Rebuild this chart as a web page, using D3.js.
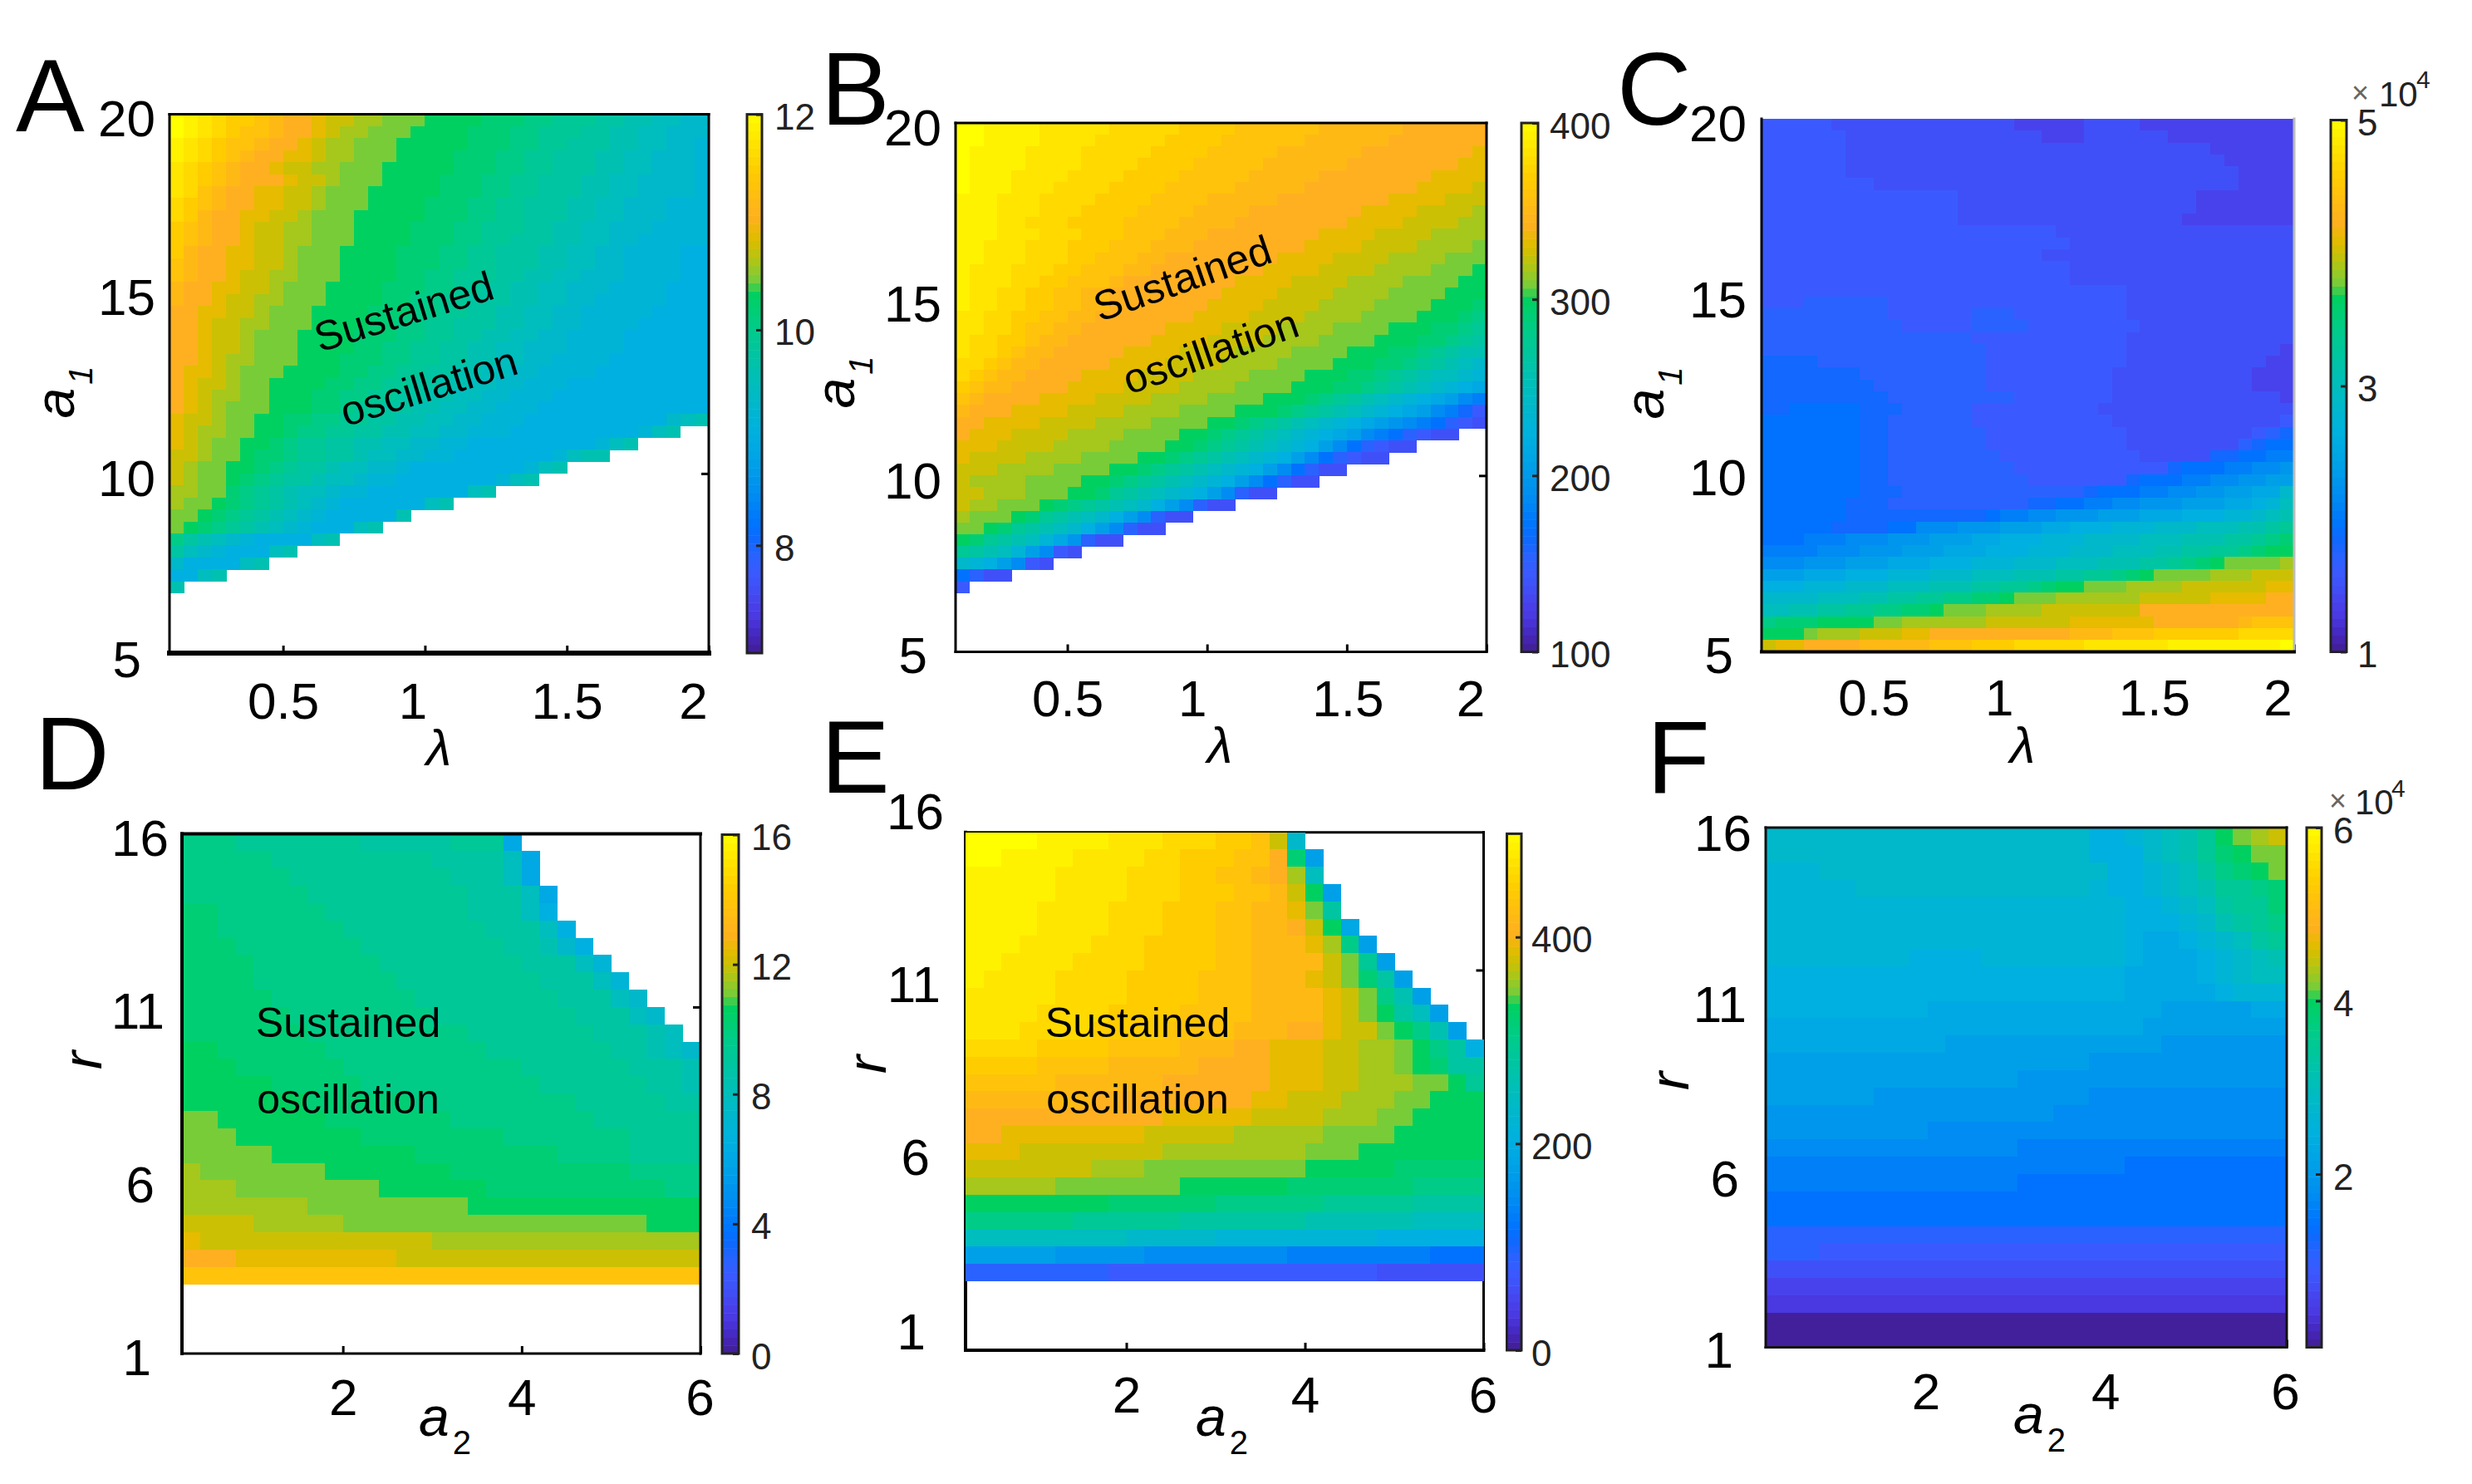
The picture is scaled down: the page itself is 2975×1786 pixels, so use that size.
<!DOCTYPE html>
<html>
<head>
<meta charset="utf-8">
<script src="https://cdn.jsdelivr.net/npm/d3@7"></script>
<style>
body { margin: 0; background: #fff; }
text { font-family: "Liberation Sans", Arial, sans-serif; fill: #000; }
</style>
</head>
<body>
<div id="fig"></div>
<script>
// every grid row is one string, one char per cell, char = colour level 0..z read off the picture
// rows run from the top of the panel down, a row that stops early is white to the right
var levelChars = "0123456789abcdefghijklmnopqrstuvwxyz";
var cmapStops = [0, 1, 2, 3, 4, 5, 6, 7, 8, 10, 12, 14, 16, 17.5, 21, 23, 24, 25, 26, 27, 28, 31, 35];
var cmapColors = ["#42209c", "#4528c0", "#4a38e0", "#4842ec", "#4050f8", "#3a5aff", "#2a62ff", "#1268ff", "#0072ff",
    "#008cf2", "#00a0e8", "#00b0e0", "#00b8ca", "#00bfb8", "#00cc88", "#00d060", "#78cc38", "#a6c71c", "#ccc004",
    "#e6bb00", "#ffb020", "#ffcc00", "#ffff00"];

var lambdaTicks = [0.5, 1, 1.5, 2];
var a1Ticks = [5, 10, 15, 20];
var a2Ticks = [2, 4, 6];
var rTicks = [1, 6, 11, 16];

var gridA = [
"zyxwvvutssrqqppooonnnnmmmllkkkjjiihhgg",
"zyxwvuutssrqppooonnnnmmmllkkkjjiihhggg",
"yxwvuutssrqppooonnnnnmmmllkkjjjiihhggf",
"yxwvutssrrqppooonnnnmmmllkkjjjiihhgggf",
"xwvutssrqqppooonnnnnmmmllkkjjjiihhgggf",
"xwvutsssrqqpooonnnnmmmllkkjjjiihhggggf",
"xwutssrrqqpooonnnnnmmmllkkjjjiihhggggf",
"wvutssrrqqpooonnnnmmmllkkjjjiihhgggfff",
"wvtssrrqqpooonnnnnmmmllkkjjjiihhgggfff",
"vutssrqqppooonnnnmmmllkkkjjiihhgggffff",
"vutssrqqppooonnnnmmmllkkjjjiihhggfffff",
"vtssrrqqpooonnnnmmmllkkjjjiihhggffffee",
"utssrrqqpooonnnnmmmllkkjjjiihhggffffee",
"utssrqqppooonnnnmmllkkkjjiihhgggffffee",
"tssrrqqpooonnnnmmmllkkjjiihhgggffffeee",
"tssrqqppooonnnnmmllkkjjjiihhggfffffeee",
"ssrrqqpooonnnnmmmllkkjjiihhggfffffeeee",
"ssrqqppooonnnnmmllkkjjjiihhggffffeeeee",
"ssrqqpooonnnnmmmllkkjjiihhggffffeeeeee",
"ssrqqpooonnnnmmllkkjjiihhgggffffeeeeee",
"ssrqppooonnnmmmllkkjjiihhggffffeeeeeee",
"srrqpooonnnnmmllkkjjiihhggffffeeeeeeee",
"srqqpoonnnnmmllkkjjiihhggfffeeeeeeeeee",
"srqppoonnnmmllkkjjiihhggfffeeeeeeeeeee",
"srqpooonnnmmlkkjjiihhggfffeeeeeeeeeeee",
"rqqpoonnmmllkkjjiihhggfffeeeeeeeeeeghi",
"rqppoonnmllkkjjiihhggfffeeeeeeeeefhi",
"rqpoonnmlkkjjiihhggffeeeeeeeeefhi",
"qqpoonmmlkkjjihhggffeeeeeeefhii",
"qpoonnmlkjjihhggfeeeeeeeefhi",
"qpoonmlkjjihhgffeeeeeeefhi",
"ppoomlkjihhgffeeeeeeehi",
"poonmlkjihgfeeeeeehi",
"oonmlkjihgfeeeeei",
"onmlkjihgfeeehi",
"ljihgfeeeehi",
"jhgfeeehi",
"geeeehi",
"eehi",
"i",
"", "", "", "", ""
];
var countsA = [38, 38, 38, 38, 38, 38, 38, 38, 38, 38, 38, 38, 38, 38, 38, 38, 38, 38, 38, 38, 38, 38, 38, 38, 38, 38,
    36, 33, 31, 28, 26, 23, 20, 17, 15, 12, 9, 7, 4, 1, 0, 0, 0, 0, 0];

var gridB = [
"zzyyyyxxxxxwwwwwvvvvuuuuuuttttttssssss",
"zzyyyyxxxxwwwwwvvvvuuuuuuttttttsssssss",
"zyyyyxxxxwwwwwvvvvuuuuuttttttssssssssr",
"zyyyyxxxxwwwwvvvvuuuuuttttttssssssssrr",
"zyyyxxxxwwwwvvvvuuuuutttttssssssssrrrr",
"zyyyxxxwwwwvvvvuuuuutttttssssssssrrrrq",
"yyyxxxwwwwvvvvuuuutttttssssssssrrrrqqq",
"yyyxxxwwwvvvvuuuuttttssssssssrrrrqqqqp",
"yyyxxwwwvvvvuuuuttttssssssssrrrrqqqqpp",
"yyyxxxwwwvvvuuutttssssssssrrrrqqqqpppp",
"yyxxxwwwvvvuuutttssssssssrrrrqqqqppppo",
"yyxxxwwwvvuuuttssssssssrrrrqqqqppppooo",
"yxxxwwwvvuuuttssssssssrrrrqqqqppppooon",
"yxxxwwvvuuutssssssssrrrrqqqqppppoooonn",
"yxxwwvvuuttssssssssrrrrqqqqppppoooonnn",
"yxxwwvvuuttsssssssrrrrqqqqppppoooonnnm",
"xxwwvvuuttsssssssrrrrqqqqppppoooonnnml",
"xxwwvuuttssssssrrrrqqqqppppoooonnnmmlk",
"xwwvvuttssssssrrrrqqqqppppoooonnnmmlkj",
"xwwvuttsssssrrrrqqqqppppoooonnnmmlkjii",
"wwvuttsssssrrrrqqqqppppoooonnnmmlkjihg",
"wvuttssssrrrrqqqqppppoooonnnmmlkjihhgf",
"vuttssssrrrrqqqqppppoooonnnmmlkjihgfed",
"utssssrrrrqqqqppppoooonnnmlkjihgfedca9",
"tsssrrrrqqqqppppoooonnnmlkjihgfedca975",
"ssrrrrqqqqppppoooonnmlkjihgfedcba98654",
"srrrqqqqppppoooonnmlkjihgfedca986544",
"rrrqqqqppppoooonnmlkjihgfeca86544",
"rqqqqppppoooonnmlkjihgfeca86544",
"qqqppppoooonnmlkjihgfeca8644",
"qppppoooonnmlkjihgfeca8644",
"qqpppooonnmkjihgfeca644",
"qppooonmlkjihgeca644",
"pooonmkjihgeca644",
"oonmkjihgeca644",
"nmkjihfdb644",
"kjihfca54",
"gfeca54",
"8644",
"5",
"", "", "", "", ""
];
var countsB = [38, 38, 38, 38, 38, 38, 38, 38, 38, 38, 38, 38, 38, 38, 38, 38, 38, 38, 38, 38, 38, 38, 38, 38, 38, 38,
    36, 33, 31, 28, 26, 23, 20, 17, 15, 12, 9, 7, 4, 1, 0, 0, 0, 0, 0];

var gridC = [
"55555444444444444433333444433333333333",
"55555544444444444444333444444333333333",
"55555544444444444444444444444444333333",
"55555544444444444444444444444444433333",
"55555544444444444444444444444444443333",
"55555555444444444444444444444444443333",
"55555555555555444444444444444443333333",
"55555555555555444444444444444443333333",
"55555555555555444444444444444433333333",
"55555555555555555555544444444444444444",
"55555555555555555555554444444444444444",
"55555555555555555555444444444444444444",
"55555555555555555555554444444444444444",
"55555555555555555555554444444444444444",
"55555555555555555555555555444444444444",
"55566666655555555555555555444444444444",
"66666666655555566655555555444444444444",
"66666666665555566665555555544444444444",
"66666666666666655555555555444444444444",
"66666666666666665555555555444444444443",
"77776666666666665555555555444444444433",
"77777776666666665555555554444444444333",
"77777777666666665555555554444444444333",
"77777777766666666655555554444444444443",
"77888887776666655555555544444444444444",
"88888887766666655555555554444444444445",
"88888887766666665555555555444444444567",
"88888887766666665555555555444444446788",
"88888887766666666555555555544444778899",
"88888887766666666655555555555788899aab",
"88888887766666666665555555788899aabbcc",
"88888887776666666666666788899aabbccddg",
"8888887776666666666778899aabbbcccddefh",
"8888887777777777899aabbbcccdddeeeffghi",
"88888777788aaabbbcccddeeefffggghhhiijk",
"888999aaabbbcccddeeefffgggghhhiiijjklm",
"9999aaabbbcccdddeeefffggghhhiijjkklmnn",
"aaabbbcccdddeeefffggghhhiiijjklmnoooop",
"cccdddeeefffggghhhiiijjkklmnoooopppqqq",
"eeefffggghhhiiijjkklmnnoooppppqqqqqqrr",
"gggghhhiijjkkllmmnoooppppppqqqqqrrrrss",
"hhiijjkkllmmnoooppppqqqqqqqsssssssssss",
"lmmmnnnnooppppppqqqqqqrrrrrrsssssstuuu",
"nnnopppqqqrrsssssssssstttuuuvvvvvvwwww",
"qrrsssstttttuuuvvvwwwwwxxxxxxyyyyyyyyz"
];
var countsC = d3.range(45).map(function() { return 38; });

var gridD = [
"lllkkkkkkkjjjjjkkkd",
"lllllkkkkkkkkkjjjjhd",
"llllllkkkkkkkkkjjjhd",
"lllllllkkkkkkkkkjjjhd",
"mmllllllkkkkkkkkjjjhe",
"mmlllllllkkkkkkkkjjjhe",
"mmmlllllllkkkkkkkkjjige",
"mmmmlllllllkkkkkkkkjjjhf",
"mmmmllllllllkkkkkkkkjjjhf",
"mmmmmllllllllkkkkkkkkjjjhg",
"mmmmmmllllllllkkkkkkkkjjjhg",
"mmmmmmmlllllllllkkkkkkkjjjih",
"nnmmmmmmlllllllllkkkkkkkjjihg",
"nnnmmmmmmllllllllllkkkkkkjjji",
"nnnnnmmmmmllllllllllkkkkkkjji",
"nnnnnnnmmmmmmlllllllllkkkkkjj",
"oonnnnnnmmmmmmmllllllllkkkkkk",
"ooonnnnnnnmmmmmmmmlllllllkkkkk",
"ooooonnnnnnnnmmmmmmmmllllkkkk",
"pooooooonnnnnnnmmmmmmmmmmlllll",
"pppoooooooonnnnnnmmmmmmmmmmll",
"pppppppooooooooonnnnnnnnnnnnn",
"qqqqpppppooooooooooooooooonn",
"rqqqqqqqqqqqqqpppppppppppppp",
"sssrrrrrrrrrqqqqqqqqqqqqqqqqq",
"uuuuuuuuuuuuuuuuuuuuuuuuuuuuu",
"", "", "", ""
];
var countsD = [19, 20, 20, 21, 21, 22, 23, 24, 25, 26, 27, 28, 29, 29, 29, 29, 29, 29, 29, 29, 29, 29, 29, 29, 29, 29, 0, 0, 0, 0];

var gridE = [
"zzzzyyyyxxxwwwvvuqg",
"zzyyyyxxxxwwvvvuusmc",
"yyyyyxxxxwwwvvuutsph",
"yyyyyxxxxwwwvvvuutqnc",
"yyyyxxxxwwwvvvuuttroj",
"yyyyxxxxwwwvvvuuttsqnd",
"yyyxxxxwwwvvvvuutttrplc",
"yyxxxxwwwwvvvvuuttttqokc",
"yxxxxwwwwvvvvuuutttrqomjc",
"xxxxxwwwwvvvvuuuttttrqolic",
"xxxxwwwwvvvvuuuuttttrqonjhc",
"xxxwwwwvvvvuuuutttssrqqonlic",
"wwwwvvvvuuuutttssrrrqqpponlje",
"vvvvuuuutttttssssrrrqqpponmjj",
"uuuuuttttttssssssrrrqqpppoonk",
"tttttttsssssssssrrqqqpppoonnn",
"sssssssssssrrrrrqqqqpppoonnnn",
"ssrrrrrrrrqqqqqpppppoooonnnnn",
"rrrqqqqqqqqppppppppooonnnnnnn",
"qqqqqqqpppooooooooonnnnnmmmmm",
"pppppooooooonnnnnnmmmmmmmllll",
"nnnnnnnnmmmmmmllllllkkkkkjjjj",
"llllllkkkkkkjjjjjjjiiiiiihhhh",
"hhhhhhhhhgggggfffffffffeeeeee",
"cccccbbbbbaaaaaaaa99999999888",
"66666666555555555555555444444",
"", "", "", ""
];
var countsE = [19, 20, 20, 21, 21, 22, 23, 24, 25, 26, 27, 28, 29, 29, 29, 29, 29, 29, 29, 29, 29, 29, 29, 29, 29, 29, 0, 0, 0, 0];

var gridF = [
"ggggggggggggggggggeefghiknopq",
"ggggggggggggggggggeeeghikmnoo",
"fffggggggggggggggggeefghjlmno",
"fffffgggggggggggggfeefghikklm",
"ffffffffffffffffffffeefghjkkm",
"ffffffffffffffffffffeeefgijkl",
"ffffffffffffffffffffeddefghjk",
"ffffffffeeeeffffffffedddefghi",
"eeeeeeeeeeeeeeeeeeeeddddefghh",
"eeeeeeeeeeeeeeeeeeeedddddefff",
"eeeeeeeeedddddddddddddcccccdd",
"dddddddddddddddddddddcccccccc",
"ddddddddddccccccccccccbbbbbbb",
"ccccccccccccccccccbbbbbbbbbbb",
"ccccccccccccccbbbbbbbbbbbbbbb",
"ccccccbbbbbbbbbbbbaaaaaaaaaaa",
"bbbbbbbbbbbbbbbbaaaaaaaaaaaaa",
"bbbbbbbbbaaaaaaaaaaaaaaaaaaaa",
"aaaaaaaaaaaaaa999999999999999",
"99999999999999999999888888888",
"99999999999999888888888888888",
"88888888888888888888888888888",
"88888888888888888888888888888",
"66666666666666666666666666666",
"66655555555555555555555555555",
"44444444444444444444444444444",
"33333333333333333333333333333",
"22222222222222222222222222222",
"00000000000000000000000000000",
"00000000000000000000000000000"
];
var countsF = d3.range(30).map(function() { return 29; });

var panels = [
    { name: "A", grid: gridA, counts: countsA, nCols: 38, xDomain: [0.1, 2], yDomain: [5, 20], cDomain: [7, 12],
      box: [204, 853, 137.6, 786], frame: [3, 3, 6, 3], cbar: [899, 917, 137.6, 786], cTicks: [8, 10, 12], cLabelX: 932,
      xTicks: lambdaTicks, xDx: [0, -15, 0, -19], xBase: 865,
      yTicks: a1Ticks, rightTicks: [10], yRight: [170, 187, 187, 187], yDy: [6, 5, 3, 4],
      letter: [19, 158], xTitle: "lambda", xTitlePos: [528, 921], yTitle: "a1", yTitlePos: [89, 472] },
    { name: "B", grid: gridB, counts: countsB, nCols: 38, xDomain: [0.1, 2], yDomain: [5, 20], cDomain: [100, 400],
      box: [1150, 1789, 148, 784.5], frame: [3, 3, 3, 3], cbar: [1831, 1851, 148, 784.5], cTicks: [100, 200, 300, 400], cLabelX: 1865,
      xTicks: lambdaTicks, xDx: [0, -18, 1, -19.5], xBase: 862,
      yTicks: a1Ticks, rightTicks: [10], yRight: [1116, 1133, 1133, 1133], yDy: [3, 5, 4, 4],
      letter: [988, 150], xTitle: "lambda", xTitlePos: [1468, 918], yTitle: "a1", yTitlePos: [1028, 460] },
    { name: "C", grid: gridC, counts: countsC, nCols: 38, xDomain: [0.1, 2], yDomain: [5, 20], cDomain: [10000, 50000],
      box: [2120, 2761, 143, 784.5], frame: [0, 3, 4, 3], rightColor: "#bbb", cbar: [2805, 2824, 144.5, 784.5],
      cTicks: [10000, 30000, 50000], cFormat: function(d) { return d / 10000; }, cLabelX: 2837, cExp: [2830, 2863, 2908, 128, 106],
      xTicks: lambdaTicks, xDx: [0, -18, 0, -20], xBase: 861,
      yTicks: a1Ticks, rightTicks: [], yRight: [2086, 2102, 2102, 2102], yDy: [3, 3, 3, 4],
      letter: [1946, 150], xTitle: "lambda", xTitlePos: [2434, 918], yTitle: "a1", yTitlePos: [2002, 473] },
    { name: "D", grid: gridD, counts: countsD, nCols: 29, xDomain: [0.2, 6], yDomain: [1, 16], cDomain: [0, 16],
      box: [219, 843, 1003.4, 1629], frame: [4, 3, 3, 4], cbar: [869, 889, 1004.5, 1629], cTicks: [0, 4, 8, 12, 16], cLabelX: 904,
      xTicks: a2Ticks, xDx: [0, 0, -1], xBase: 1703,
      yTicks: rTicks, rightTicks: [11], yRight: [182, 186, 198, 203], yDy: [3, 4, 4, 4],
      letter: [42, 950], xTitle: "a2", xTitlePos: [504, 1728], yTitle: "r", yTitlePos: [122, 1276] },
    { name: "E", grid: gridE, counts: countsE, nCols: 29, xDomain: [0.2, 6], yDomain: [1, 16], cDomain: [0, 500],
      box: [1162, 1785.5, 1001.7, 1625], frame: [3, 3, 4, 4], frameUnder: true, rightTickShift: -42, cbar: [1813.5, 1831, 1003.4, 1625],
      cTicks: [0, 200, 400], cLabelX: 1843,
      xTicks: a2Ticks, xDx: [0, 0, -1], xBase: 1699.5,
      yTicks: rTicks, rightTicks: [11], yRight: [1114, 1119, 1132, 1136], yDy: [-24, -26, -26, -26],
      letter: [988, 954], xTitle: "a2", xTitlePos: [1439, 1728], yTitle: "r", yTitlePos: [1066, 1281] },
    { name: "F", grid: gridF, counts: countsF, nCols: 29, xDomain: [0.2, 6], yDomain: [1, 16], cDomain: [0, 60000],
      box: [2125, 2752, 996, 1621.5], frame: [3, 3, 3, 3], frameColor: "#111", cbar: [2776, 2794, 996, 1621.5],
      cTicks: [20000, 40000, 60000], cFormat: function(d) { return d / 10000; }, cLabelX: 2808, cExp: [2803, 2834, 2878, 980, 959],
      xTicks: a2Ticks, xDx: [-2, -2, -2], xBase: 1695.5,
      yTicks: rTicks, rightTicks: [], yRight: [2086, 2093, 2102, 2108], yDy: [2, 4, 3, 5],
      letter: [1982, 955], xTitle: "a2", xTitlePos: [2423, 1725], yTitle: "r", yTitlePos: [2032, 1301] }
];

// the two "Sustained oscillation" notes: panel, text, x, y, angle
var notes = [
    ["A", "Sustained", 487, 378, -17], ["A", "oscillation", 517, 468, -17],
    ["B", "Sustained", 1424, 338, -19], ["B", "oscillation", 1458, 426, -19],
    ["D", "Sustained", 419, 1234, 0], ["D", "oscillation", 419, 1326, 0],
    ["E", "Sustained", 1369, 1234, 0], ["E", "oscillation", 1369, 1326, 0]
];

var svg = d3.select("#fig").append("svg")
    .attr("width", 2975)
    .attr("height", 1786);

function drawFrame(g, p) {
    var b = p.box, w = p.frame, col = p.frameColor || "#000";
    var sides = [
        [b[0], b[2], b[1], b[2], w[0], col],
        [b[1], b[2], b[1], b[3], w[1], p.rightColor || col],
        [b[0], b[3], b[1], b[3], w[2], col],
        [b[0], b[2], b[0], b[3], w[3], col]
    ];
    g.selectAll(".side")
        .data(sides)
      .enter().append("line")
        .attr("class", "side")
        .attr("x1", function(d) { return d[0]; })
        .attr("y1", function(d) { return d[1]; })
        .attr("x2", function(d) { return d[2]; })
        .attr("y2", function(d) { return d[3]; })
        .attr("stroke-width", function(d) { return d[4]; })
        .attr("stroke-linecap", "square")
        .style("stroke", function(d) { return d[5]; })
        .style("display", function(d) { return d[4] ? null : "none"; });
}

function drawPanel(p) {
    var g = svg.append("g").attr("class", "panel");
    var b = p.box;
    var nRows = p.grid.length;
    var cMin = p.cDomain[0], cMax = p.cDomain[1];

    var xTick = d3.scaleLinear().domain(p.xDomain).range([b[0], b[1]]);
    var yTick = d3.scaleLinear().domain(p.yDomain).range([b[3], b[2]]);
    var xCell = d3.scaleBand().domain(d3.range(p.nCols)).range([b[0], b[1]]);
    var yCell = d3.scaleBand().domain(d3.range(nRows)).range([b[2], b[3]]);
    var levelValue = d3.scaleLinear().domain([0, 35]).range(p.cDomain);
    var color = d3.scaleLinear().domain(cmapStops.map(levelValue)).range(cmapColors).clamp(true);

    var cells = [];
    p.grid.forEach(function(row, r) {
        d3.range(p.counts[r]).forEach(function(c) {
            var ch = row[Math.min(c, row.length - 1)];
            cells.push({ r: r, c: c, value: levelValue(levelChars.indexOf(ch)) });
        });
    });

    // ticks go first, the image covers them where it has cells
    var xAxis = g.append("g")
        .attr("transform", "translate(0," + b[3] + ")")
        .call(d3.axisBottom(xTick).tickValues(p.xTicks).tickSizeInner(-9).tickSizeOuter(0).tickFormat(d3.format("")));
    xAxis.select(".domain").remove();
    xAxis.selectAll("line").attr("stroke", "#000").attr("stroke-width", 3);
    xAxis.selectAll("text")
        .attr("y", p.xBase - b[3])
        .attr("dy", 0)
        .attr("dx", function(d, i) { return p.xDx[i]; })
        .style("font-size", "62px")
        .style("font-family", "'Liberation Sans'");

    var yAxis = g.append("g")
        .attr("transform", "translate(" + b[0] + ",0)")
        .call(d3.axisLeft(yTick).tickValues(p.yTicks).tickSize(0).tickFormat(d3.format("")));
    yAxis.select(".domain").remove();
    yAxis.selectAll("text")
        .attr("x", function(d, i) { return p.yRight[i] - b[0]; })
        .attr("dy", function(d, i) { return p.yDy[i] + 22; })
        .style("font-size", "62px")
        .style("font-family", "'Liberation Sans'");

    var rightAxis = g.append("g")
        .attr("transform", "translate(" + b[1] + "," + (p.rightTickShift || 0) + ")")
        .call(d3.axisRight(yTick).tickValues(p.rightTicks).tickSizeInner(-9).tickSizeOuter(0).tickFormat(""));
    rightAxis.select(".domain").remove();
    rightAxis.selectAll("line").attr("stroke", "#000").attr("stroke-width", 3);

    if (p.frameUnder) drawFrame(g, p);

    g.append("g").selectAll(".cell")
        .data(cells)
      .enter().append("rect")
        .attr("class", "cell")
        .attr("x", function(d) { return xCell(d.c); })
        .attr("y", function(d) { return yCell(d.r); })
        .attr("width", xCell.bandwidth() + 0.5)
        .attr("height", yCell.bandwidth() + 0.5)
        .attr("shape-rendering", "crispEdges")
        .style("fill", function(d) { return color(d.value); });

    if (!p.frameUnder) drawFrame(g, p);

    // colorbar
    var cb = p.cbar;
    var cScale = d3.scaleLinear().domain(p.cDomain).range([cb[3], cb[2]]);
    var cSteps = d3.range(64).map(function(i) { return cMin + (cMax - cMin) * i / 64; });
    g.append("g").selectAll(".step")
        .data(cSteps)
      .enter().append("rect")
        .attr("class", "step")
        .attr("x", cb[0])
        .attr("width", cb[1] - cb[0])
        .attr("y", function(d) { return cScale(d + (cMax - cMin) / 64); })
        .attr("height", (cb[3] - cb[2]) / 64 + 0.5)
        .style("fill", function(d) { return color(d); });
    g.append("rect")
        .attr("x", cb[0])
        .attr("y", cb[2])
        .attr("width", cb[1] - cb[0])
        .attr("height", cb[3] - cb[2])
        .style("fill", "none")
        .style("stroke", "#222")
        .style("stroke-width", 3);

    var cAxis = g.append("g")
        .attr("transform", "translate(" + cb[1] + ",0)")
        .call(d3.axisRight(cScale).tickValues(p.cTicks).tickSizeInner(-7).tickSizeOuter(0).tickFormat(p.cFormat || d3.format("")));
    cAxis.select(".domain").remove();
    cAxis.selectAll("line").attr("stroke", "#222").attr("stroke-width", 3);
    cAxis.selectAll("text")
        .attr("x", p.cLabelX - cb[1])
        .attr("dy", 18)
        .style("text-anchor", "start")
        .style("fill", "#222")
        .style("font-size", "44px")
        .style("font-family", "'Liberation Sans'");

    if (p.cExp) {
        var ex = p.cExp;
        g.append("text").attr("x", ex[0]).attr("y", ex[3] - 4).style("font-size", "36px").style("fill", "#666").text("\u00d7");
        g.append("text").attr("x", ex[1]).attr("y", ex[3]).style("font-size", "42px").style("fill", "#222").text("10");
        g.append("text").attr("x", ex[2]).attr("y", ex[4]).style("font-size", "30px").style("fill", "#222").text("4");
    }

    // panel letter
    g.append("text")
        .attr("x", p.letter[0])
        .attr("y", p.letter[1])
        .style("font-size", "124px")
        .text(p.name);

    // axis titles
    if (p.xTitle == "lambda") {
        g.append("text")
            .attr("x", p.xTitlePos[0])
            .attr("y", p.xTitlePos[1])
            .attr("text-anchor", "middle")
            .style("font-size", "62px")
            .style("font-style", "italic")
            .text("\u03bb");
    } else {
        var xt = g.append("text").attr("x", p.xTitlePos[0]).attr("y", p.xTitlePos[1]);
        xt.append("tspan").style("font-size", "66px").style("font-style", "italic").text("a");
        xt.append("tspan").attr("dx", 4).attr("dy", 22).style("font-size", "40px").text("2");
    }

    var yt = g.append("text")
        .attr("transform", "translate(" + p.yTitlePos[0] + "," + p.yTitlePos[1] + ") rotate(-90)")
        .attr("text-anchor", "middle");
    if (p.yTitle == "a1") {
        yt.append("tspan").style("font-size", "66px").style("font-style", "italic").text("a");
        yt.append("tspan").attr("dx", 4).attr("dy", 22).style("font-size", "40px").style("font-style", "italic").text("1");
    } else {
        yt.style("font-size", "66px").style("font-style", "italic").text("r");
    }
}

panels.forEach(drawPanel);

svg.append("g").selectAll(".note")
    .data(notes)
  .enter().append("text")
    .attr("class", "note")
    .attr("text-anchor", "middle")
    .attr("transform", function(d) { return "translate(" + d[2] + "," + d[3] + ") rotate(" + d[4] + ")"; })
    .attr("dy", 14)
    .style("font-size", "50px")
    .text(function(d) { return d[1]; });
</script>
</body>
</html>
